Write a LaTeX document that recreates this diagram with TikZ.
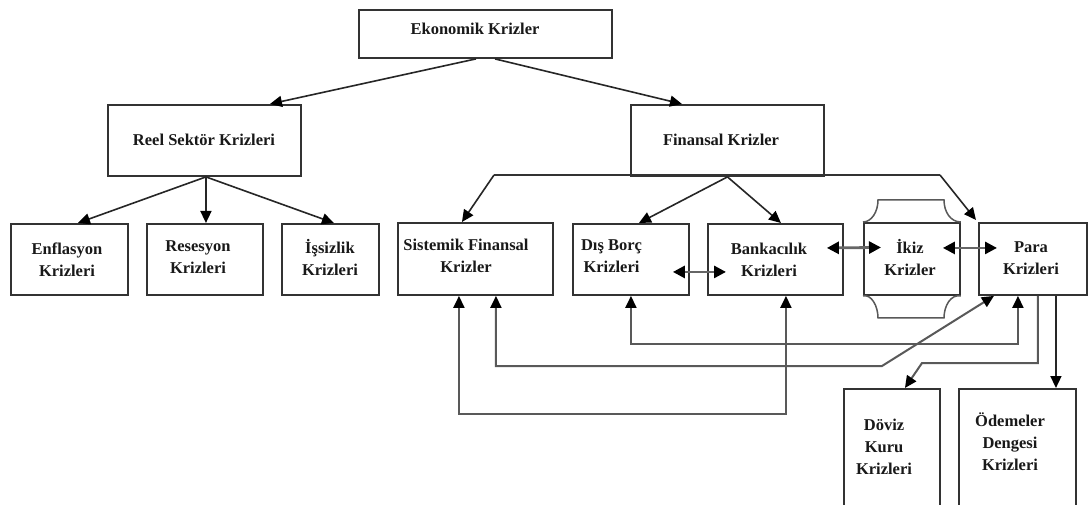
\documentclass[tikz,border=0pt]{standalone}
\usepackage{fontspec}
\setmainfont{Liberation Serif}
\usetikzlibrary{arrows.meta}
\begin{document}
\begin{tikzpicture}[x=1pt,y=-1pt,
  box/.style={draw=black!80, line width=1.9pt, inner sep=0pt, anchor=north west},
  lbl/.style={font=\fontsize{16.5}{22}\selectfont\bfseries, align=center, inner sep=0pt, text=black!90},
  arr/.style={line width=1.6pt, draw=black!85, -{Triangle[length=12pt,width=11pt,color=black]}},
  darr/.style={line width=2.8pt, draw=black!60, {Triangle[length=12pt,width=12pt,color=black]}-{Triangle[length=12pt,width=12pt,color=black]}},
  lp/.style={line width=2pt, draw=black!65, {Triangle[length=12pt,width=11pt,color=black]}-{Triangle[length=12pt,width=11pt,color=black]}},
  lp1/.style={line width=2pt, draw=black!65, -{Triangle[length=12pt,width=11pt,color=black]}},
  deco/.style={line width=1.5pt, draw=black!65}
]
\useasboundingbox (0,0) rectangle (1088,505);
\clip (0,0) rectangle (1088,505);
\fill[white] (0,0) rectangle (1088,505);

% boxes
\node[box, minimum width=253pt, minimum height=48pt] (ekon) at (358,9) {};
\node[box, minimum width=193pt, minimum height=71pt] (reel) at (107,104) {};
\node[box, minimum width=117pt, minimum height=71pt] (enf) at (10,223) {};
\node[box, minimum width=116pt, minimum height=71pt] (res) at (146,223) {};
\node[box, minimum width=97pt, minimum height=71pt] (iss) at (281,223) {};
\node[box, minimum width=155pt, minimum height=72pt] (sist) at (397,222) {};
\node[box, minimum width=193pt, minimum height=71pt] (fin) at (630,104) {};
\node[box, minimum width=116pt, minimum height=71pt] (dis) at (572,223) {};
\node[box, minimum width=135pt, minimum height=71pt] (bank) at (707,223) {};
\node[box, minimum width=96pt, minimum height=72pt] (ikiz) at (863,222) {};
\node[box, minimum width=108pt, minimum height=72pt] (para) at (978,222) {};
\node[box, minimum width=96pt, minimum height=132pt] (doviz) at (843,388) {};
\node[box, minimum width=117pt, minimum height=132pt] (ode) at (958,388) {};

% ikiz decoration
\draw[deco] (ikiz.north west) .. controls (871.3,222) and (878,212.1) .. (878,200)
  -- (944,200) .. controls (944,212.1) and (950.7,222) .. (ikiz.north east);
\draw[deco] (ikiz.south west) .. controls (871.3,294) and (878,305.9) .. (878,318)
  -- (944,318) .. controls (944,305.9) and (950.7,294) .. (ikiz.south east);

% labels
\node[lbl] (tekon) at (475,29) {Ekonomik Krizler};
\node[lbl] (treel) at (204,140) {Reel Sektör Krizleri};
\node[lbl] (tenf) at (67,260) {Enflasyon\\Krizleri};
\node[lbl] (tres) at (198,257) {Resesyon\\Krizleri};
\node[lbl] (tiss) at (330,258) {İşsizlik\\Krizleri};
\node[lbl] (tsist) at (466,256) {Sistemik Finansal\\Krizler};
\node[lbl] (tfin) at (721,140) {Finansal Krizler};
\node[lbl] (tdis) at (611.5,256) {Dış Borç\\Krizleri};
\node[lbl] (tbank) at (769,260) {Bankacılık\\Krizleri};
\node[lbl] (tikiz) at (910,258) {İkiz\\Krizler};
\node[lbl] (tpara) at (1031,258) {Para\\Krizleri};
\node[lbl] (tdoviz) at (884,447) {Döviz\\Kuru\\Krizleri};
\node[lbl] (tode) at (1010,442) {Ödemeler\\Dengesi\\Krizleri};

% tree arrows
\draw[arr] ([xshift=-9.5pt]ekon.south) -- ([xshift=65.5pt]reel.north);
\draw[arr] ([xshift=9.5pt]ekon.south) -- ([xshift=-45.5pt]fin.north);
\draw[arr] ([xshift=1.5pt]reel.south) -- ([xshift=8.5pt]enf.north);
\draw[arr] ([xshift=1.5pt]reel.south) -- ([xshift=1pt]res.north);
\draw[arr] ([xshift=1.5pt]reel.south) -- ([xshift=3.5pt]iss.north);
\coordinate (fl) at (494,175);
\coordinate (fr) at (940,175);
\draw[line width=1.9pt, draw=black!80] (fl) -- (fr);
\draw[arr] (fl) -- ([xshift=-13.5pt]sist.north);
\draw[arr] (fr) -- ([xshift=-2pt,yshift=2pt]para.north west);
\draw[arr] (fin.south) -- ([xshift=8pt]dis.north);
\draw[arr] (fin.south) -- ([xshift=5.5pt]bank.north);

% double arrows
\draw[darr] ([xshift=-17pt,yshift=-12.5pt]dis.east) -- ([xshift=19pt,yshift=-12.5pt]bank.west);
\draw[darr] ([xshift=-17pt,yshift=11.5pt]bank.east) -- ([xshift=18pt,yshift=11.5pt]ikiz.west);
\draw[darr] ([xshift=-18pt,yshift=11pt]ikiz.east) -- ([xshift=19pt,yshift=11pt]para.west);

% loops
\draw[lp] ([xshift=-16.5pt]sist.south) -- ++(0,118) -| ([xshift=10.5pt]bank.south);
\coordinate (k1) at (882,366);
\draw[lp] ([xshift=20.5pt]sist.south) |- (k1) -- ([xshift=-39pt]para.south);
\draw[lp] (dis.south) -- ++(0,48) -| ([xshift=-15pt]para.south);
\coordinate (k2) at (922,363);
\draw[lp1] ([xshift=5pt]para.south) |- (k2) -- ([xshift=13pt]doviz.north);
\draw[arr] ([xshift=23pt]para.south) -- ([xshift=38.5pt]ode.north);
\end{tikzpicture}
\end{document}
